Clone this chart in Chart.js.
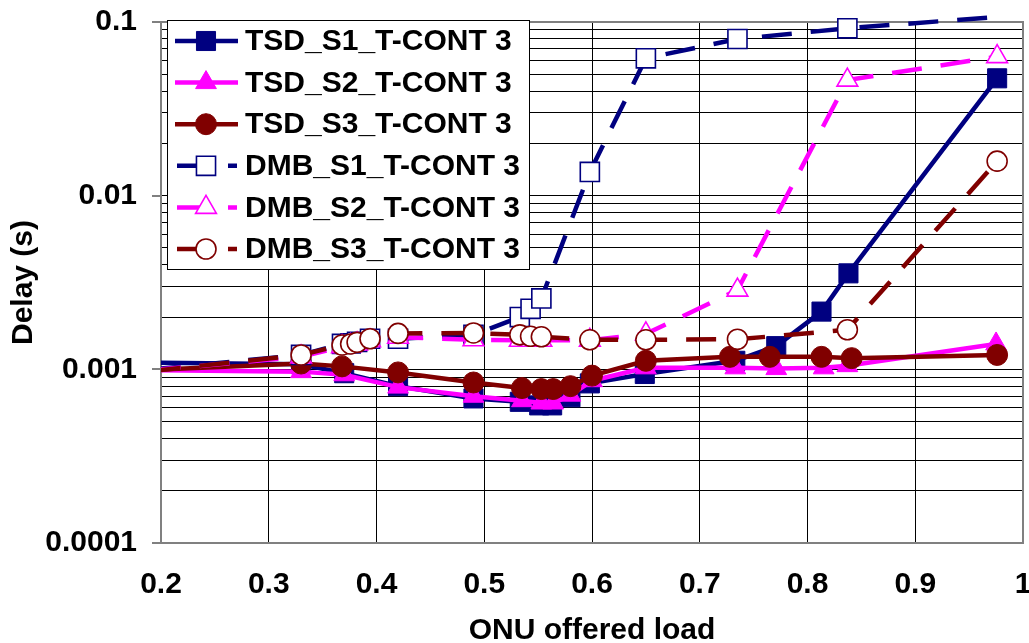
<!DOCTYPE html>
<html>
<head>
<meta charset="utf-8">
<script src="https://cdn.jsdelivr.net/npm/chart.js@4/dist/chart.umd.min.js"></script>
<style>
  html, body { margin: 0; padding: 0; background: #fff; }
  #wrap { width: 1029px; height: 643px; }
</style>
</head>
<body>
<div id="wrap"><canvas id="delay-chart" width="1029" height="643"></canvas></div>
<script>
// offered load (x) and delay in seconds (y)
const tsdS1Load  = [0.1, 0.33, 0.37, 0.42, 0.49, 0.533, 0.551, 0.563, 0.58, 0.598, 0.649, 0.733, 0.771, 0.813, 0.838, 0.976];
const tsdS1Delay = [0.00111, 0.00107, 0.00095, 0.0008, 0.00068, 0.00065, 0.00062, 0.00062, 0.00069, 0.00083, 0.00094, 0.00112, 0.00136, 0.00215, 0.00357, 0.0474];

const tsdS2Load  = [0.1, 0.33, 0.37, 0.42, 0.49, 0.535, 0.553, 0.564, 0.58, 0.6, 0.65, 0.733, 0.771, 0.815, 0.837, 0.975];
const tsdS2Delay = [0.001, 0.00097, 0.00093, 0.00079, 0.0007, 0.00066, 0.00064, 0.00064, 0.00071, 0.00086, 0.00102, 0.00102, 0.00101, 0.00102, 0.00105, 0.0014];

const tsdS3Load  = [0.1, 0.33, 0.368, 0.42, 0.49, 0.535, 0.553, 0.564, 0.58, 0.6, 0.65, 0.728, 0.765, 0.813, 0.841, 0.976];
const tsdS3Delay = [0.00094, 0.00108, 0.00104, 0.00096, 0.00084, 0.00078, 0.00077, 0.00077, 0.0008, 0.00092, 0.00112, 0.00118, 0.00118, 0.00118, 0.00116, 0.00121];

const dmbLoad    = [0.1, 0.33, 0.368, 0.376, 0.382, 0.394, 0.42, 0.49, 0.533, 0.543, 0.553, 0.598, 0.65, 0.735, 0.837, 0.976];
const dmbS1Delay = [0.00088, 0.00121, 0.0014, 0.00141, 0.00144, 0.0015, 0.0015, 0.00158, 0.002, 0.00223, 0.00256, 0.0137, 0.0618, 0.0798, 0.092, 0.107];
const dmbS2Delay = [0.00088, 0.00118, 0.00135, 0.00137, 0.0014, 0.00146, 0.00153, 0.00148, 0.00147, 0.00147, 0.00147, 0.00147, 0.0016, 0.00286, 0.0463, 0.0632];
const dmbS3Delay = [0.00085, 0.00121, 0.00138, 0.0014, 0.00143, 0.0015, 0.00161, 0.00162, 0.00158, 0.00155, 0.00154, 0.00148, 0.00148, 0.00149, 0.00169, 0.0158];

const seriesNames = ['TSD_S1_T-CONT 3', 'TSD_S2_T-CONT 3', 'TSD_S3_T-CONT 3',
                     'DMB_S1_T-CONT 3', 'DMB_S2_T-CONT 3', 'DMB_S3_T-CONT 3'];

const xTicks = [0.2, 0.3, 0.4, 0.5, 0.6, 0.7, 0.8, 0.9, 1];
const xTickLabels = ['0.2', '0.3', '0.4', '0.5', '0.6', '0.7', '0.8', '0.9', '1'];
const yDecades = [0.0001, 0.001, 0.01, 0.1];
const yTickLabels = ['0.0001', '0.001', '0.01', '0.1'];
const Y_MAX = 0.1;

const NAVY = '#000080', MAGENTA = '#ff00ff', MAROON = '#800000';
const FONT = '"Liberation Sans", Arial, sans-serif';

// gridlines at 1..9 x each decade
const yGrid = [];
yDecades.forEach((d, i) => {
  if (i === yDecades.length - 1) { yGrid.push(d); return; }
  for (let m = 1; m <= 9; m++) yGrid.push(Number((m * d).toPrecision(3)));
});

const pairs = (xs, ys) => xs.map((x, i) => ({x, y: ys[i]}));

const styles = [
  {color: NAVY,    style: 'rect',     radius: 13.5, filled: true,  dashed: false},
  {color: MAGENTA, style: 'triangle', radius: 12,   filled: true,  dashed: false},
  {color: MAROON,  style: 'circle',   radius: 10.5, filled: true,  dashed: false},
  {color: NAVY,    style: 'rect',     radius: 13.5, filled: false, dashed: true},
  {color: MAGENTA, style: 'triangle', radius: 12,   filled: false, dashed: true},
  {color: MAROON,  style: 'circle',   radius: 10,   filled: false, dashed: true},
];
const seriesData = [
  pairs(tsdS1Load, tsdS1Delay),
  pairs(tsdS2Load, tsdS2Delay),
  pairs(tsdS3Load, tsdS3Delay),
  pairs(dmbLoad, dmbS1Delay),
  pairs(dmbLoad, dmbS2Delay),
  pairs(dmbLoad, dmbS3Delay),
];

const datasets = seriesData.map((data, i) => {
  const s = styles[i];
  return {
    label: seriesNames[i],
    data: data,
    borderColor: s.color,
    borderWidth: 4.5,
    borderDash: s.dashed ? [30, 19] : [],
    pointStyle: s.style,
    // like Excel, no marker for a point past the top of the axis
    pointRadius: (c) => (c.raw && c.raw.y > Y_MAX) ? 0 : s.radius,
    pointBackgroundColor: s.filled ? s.color : '#fff',
    pointBorderColor: s.color,
    pointBorderWidth: s.filled ? 1 : 1.6,
    tension: 0,
    clip: {left: 0, top: 12, right: 0, bottom: 0},
    order: 5 - i, // later series drawn on top, like the original
  };
});

// grey frame around the plot area plus the major y tick marks
const plotFrame = {
  id: 'plotFrame',
  beforeDatasetsDraw(chart) {
    const {ctx, chartArea: a} = chart;
    const y = chart.scales.y;
    ctx.save();
    ctx.strokeStyle = '#808080';
    ctx.lineWidth = 2;
    ctx.strokeRect(a.left, a.top, a.right - a.left, a.bottom - a.top);
    ctx.beginPath();
    yDecades.forEach(v => {
      const py = Math.round(y.getPixelForValue(v));
      ctx.moveTo(a.left - 9, py);
      ctx.lineTo(a.left, py);
    });
    ctx.stroke();
    ctx.restore();
  }
};

// boxed legend sitting inside the plot, top left
const boxLegend = {
  id: 'boxLegend',
  afterDraw(chart) {
    const ctx = chart.ctx;
    const left = 167, top = 20, w = 362, h = 249, rowH = 41.6;
    ctx.save();
    ctx.fillStyle = '#fff';
    ctx.fillRect(left, top, w, h);
    ctx.strokeStyle = '#000';
    ctx.lineWidth = 1;
    ctx.strokeRect(left + 0.5, top + 0.5, w, h);
    seriesNames.forEach((name, i) => {
      const s = styles[i];
      const y = top + 21 + i * rowH;
      ctx.strokeStyle = s.color;
      ctx.lineWidth = 4.5;
      ctx.beginPath();
      if (s.dashed) {
        ctx.moveTo(177, y); ctx.lineTo(206, y);
        ctx.moveTo(228, y); ctx.lineTo(237, y);
      } else {
        ctx.moveTo(175, y); ctx.lineTo(238, y);
      }
      ctx.stroke();
      ctx.fillStyle = s.filled ? s.color : '#fff';
      ctx.strokeStyle = s.color;
      ctx.lineWidth = s.filled ? 1 : 1.6;
      Chart.helpers.drawPoint(ctx, {pointStyle: s.style, radius: s.radius, rotation: 0, borderWidth: ctx.lineWidth}, 206, y);
      ctx.fillStyle = '#000';
      ctx.font = 'bold 30px ' + FONT;
      ctx.textBaseline = 'middle';
      ctx.textAlign = 'left';
      ctx.fillText(name, 245, y + 1);
    });
    ctx.restore();
  }
};

new Chart(document.getElementById('delay-chart'), {
  type: 'line',
  data: {datasets},
  options: {
    responsive: false,
    animation: false,
    devicePixelRatio: 1,
    layout: {autoPadding: false, padding: {top: 22, right: 6, left: 0, bottom: 0}},
    plugins: {legend: {display: false}, tooltip: {enabled: false}},
    scales: {
      x: {
        type: 'linear',
        min: 0.2,
        max: 1,
        afterBuildTicks: (scale) => { scale.ticks = xTicks.map(v => ({value: v})); },
        afterFit: (scale) => {
          scale.height = 100;
          scale.paddingLeft = 0;
          scale.paddingRight = 0;
        },
        ticks: {
          autoSkip: false,
          maxRotation: 0,
          padding: 24,
          color: '#000',
          font: {family: FONT, size: 30, weight: 'bold'},
          callback: (v, i) => xTickLabels[i],
        },
        grid: {color: '#000', lineWidth: 1, drawTicks: false},
        border: {color: '#808080', width: 2},
        title: {
          display: true,
          text: 'ONU offered load',
          color: '#000',
          padding: {top: 0, bottom: -3},
          font: {family: FONT, size: 30, weight: 'bold', lineHeight: 1},
        },
      },
      y: {
        type: 'logarithmic',
        min: 0.0001,
        max: Y_MAX,
        afterBuildTicks: (scale) => { scale.ticks = yGrid.map(v => ({value: v, major: yDecades.includes(v)})); },
        afterFit: (scale) => {
          scale.width = 161;
          scale.paddingTop = 0;
          scale.paddingBottom = 0;
        },
        ticks: {
          autoSkip: false,
          padding: 15,
          color: '#000',
          font: {family: FONT, size: 30, weight: 'bold'},
          callback: (v) => {
            const k = yDecades.indexOf(v);
            return k >= 0 ? yTickLabels[k] : '';
          },
        },
        grid: {color: '#000', lineWidth: 1, tickLength: 9, tickColor: 'rgba(0,0,0,0)'},
        border: {color: '#808080', width: 2},
        title: {
          display: true,
          text: 'Delay (s)',
          color: '#000',
          padding: {top: 9, bottom: 0},
          font: {family: FONT, size: 30, weight: 'bold', lineHeight: 1},
        },
      },
    },
  },
  plugins: [plotFrame, boxLegend],
});
</script>
</body>
</html>
